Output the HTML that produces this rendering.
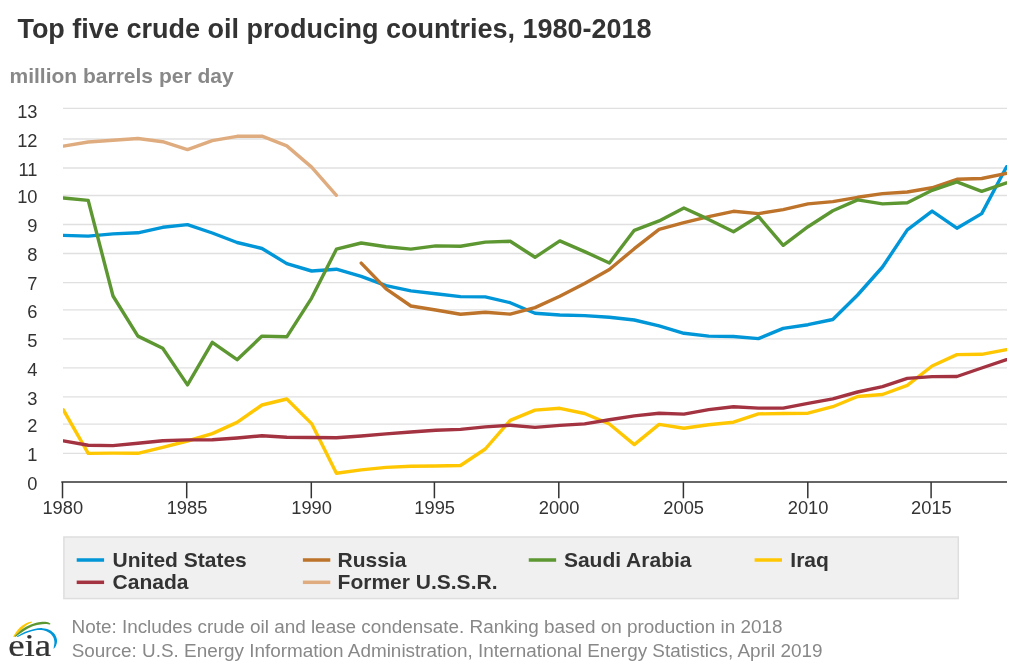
<!DOCTYPE html>
<html lang="en"><head><meta charset="utf-8"><title>Top five crude oil producing countries, 1980-2018</title>
<style>
html,body{margin:0;padding:0;background:#fff;}
body{width:1024px;height:666px;overflow:hidden;}
svg{display:block;font-family:"Liberation Sans",Arial,sans-serif;}
.t{font-weight:bold;font-size:27px;fill:#333;}
.st{font-weight:bold;font-size:21px;fill:#888;}
.ax{font-size:18.3px;fill:#333;}
.lg{font-weight:bold;font-size:21px;fill:#333;}
.nt{font-size:18.9px;fill:#888;}
.s{fill:none;stroke-width:3.4;stroke-linejoin:round;stroke-linecap:round;}
</style></head><body>
<svg width="1024" height="666" viewBox="0 0 1024 666">
<rect width="1024" height="666" fill="#fff"/>
<text class="t" x="17.4" y="37.9">Top five crude oil producing countries, 1980-2018</text>
<text class="st" x="9.5" y="83.2">million barrels per day</text>
<g stroke="#e0e0e0" stroke-width="1.35">
<line x1="63" x2="1007" y1="108.4" y2="108.4"/>
<line x1="63" x2="1007" y1="139.0" y2="139.0"/>
<line x1="63" x2="1007" y1="168.0" y2="168.0"/>
<line x1="63" x2="1007" y1="195.5" y2="195.5"/>
<line x1="63" x2="1007" y1="224.5" y2="224.5"/>
<line x1="63" x2="1007" y1="253.5" y2="253.5"/>
<line x1="63" x2="1007" y1="282.6" y2="282.6"/>
<line x1="63" x2="1007" y1="309.9" y2="309.9"/>
<line x1="63" x2="1007" y1="338.9" y2="338.9"/>
<line x1="63" x2="1007" y1="367.9" y2="367.9"/>
<line x1="63" x2="1007" y1="396.9" y2="396.9"/>
<line x1="63" x2="1007" y1="424.1" y2="424.1"/>
<line x1="63" x2="1007" y1="453.3" y2="453.3"/>
</g>
<g class="ax" text-anchor="end">
<text x="37.5" y="117.6">13</text>
<text x="37.5" y="146.7">12</text>
<text x="37.5" y="175.7">11</text>
<text x="37.5" y="203.2">10</text>
<text x="37.5" y="232.2">9</text>
<text x="37.5" y="261.2">8</text>
<text x="37.5" y="290.3">7</text>
<text x="37.5" y="317.6">6</text>
<text x="37.5" y="346.6">5</text>
<text x="37.5" y="375.6">4</text>
<text x="37.5" y="404.6">3</text>
<text x="37.5" y="431.8">2</text>
<text x="37.5" y="461.0">1</text>
<text x="37.5" y="489.8">0</text>
</g>
<clipPath id="pc"><rect x="63" y="100" width="944" height="390"/></clipPath>
<g class="s" clip-path="url(#pc)">
<path stroke="#0096d7" d="M63.4 235.4L88.2 236.1L113.0 233.9L137.9 232.8L162.7 227.3L187.5 224.6L212.3 233.0L237.1 242.5L262.0 248.5L286.8 263.6L311.6 271.0L336.4 269.2L361.2 276.3L386.1 285.6L410.9 290.9L435.7 293.8L460.5 296.6L485.3 296.9L510.2 302.7L535.0 313.3L559.8 315.0L584.6 315.6L609.4 317.2L634.3 320.0L659.1 325.9L683.9 333.3L708.7 336.1L733.5 336.5L758.4 338.6L783.2 328.4L808.0 324.7L832.8 319.5L857.6 295.0L882.5 267.0L907.3 229.9L932.1 211.1L956.9 228.2L981.7 213.6L1006.6 166.7"/>
<path stroke="#bd732a" d="M361.2 263.1L386.1 288.9L410.9 306.0L435.7 310.0L460.5 314.2L485.3 312.2L510.2 314.1L535.0 307.6L559.8 296.2L584.6 283.6L609.4 269.5L634.3 248.7L659.1 229.4L683.9 222.6L708.7 216.7L733.5 211.3L758.4 213.6L783.2 209.6L808.0 203.9L832.8 201.6L857.6 197.3L882.5 193.6L907.3 192.0L932.1 187.8L956.9 179.3L981.7 178.5L1006.6 173.3"/>
<path stroke="#5d9732" d="M63.4 198.0L88.2 200.4L113.0 296.0L137.9 336.1L162.7 348.3L187.5 384.9L212.3 342.3L237.1 359.7L262.0 336.1L286.8 336.8L311.6 298.1L336.4 249.2L361.2 243.0L386.1 246.8L410.9 249.1L435.7 245.9L460.5 246.2L485.3 242.1L510.2 241.3L535.0 257.3L559.8 240.9L584.6 251.6L609.4 263.0L634.3 230.3L659.1 220.9L683.9 208.0L708.7 219.4L733.5 231.8L758.4 216.3L783.2 245.3L808.0 226.7L832.8 210.7L857.6 199.9L882.5 203.9L907.3 202.7L932.1 190.3L956.9 181.9L981.7 191.3L1006.6 182.9"/>
<path stroke="#ffc702" d="M63.4 409.9L88.2 453.4L113.0 453.1L137.9 453.3L162.7 447.4L187.5 441.0L212.3 433.6L237.1 422.4L262.0 405.0L286.8 399.0L311.6 423.6L336.4 473.3L361.2 469.9L386.1 467.4L410.9 466.2L435.7 466.0L460.5 465.5L485.3 449.0L510.2 420.4L535.0 410.1L559.8 408.3L584.6 413.5L609.4 424.0L634.3 444.6L659.1 424.4L683.9 428.2L708.7 424.8L733.5 422.2L758.4 413.9L783.2 413.5L808.0 413.2L832.8 406.7L857.6 396.5L882.5 394.5L907.3 385.4L932.1 366.0L956.9 354.6L981.7 354.3L1006.6 349.7"/>
<path stroke="#a33340" d="M63.4 440.9L88.2 445.2L113.0 445.6L137.9 443.2L162.7 440.8L187.5 439.9L212.3 439.8L237.1 438.0L262.0 435.7L286.8 437.3L311.6 437.5L336.4 437.7L361.2 436.0L386.1 433.9L410.9 432.0L435.7 430.3L460.5 429.4L485.3 426.9L510.2 425.2L535.0 427.4L559.8 425.4L584.6 423.9L609.4 419.8L634.3 415.9L659.1 413.3L683.9 414.1L708.7 409.6L733.5 406.7L758.4 408.1L783.2 408.1L808.0 403.4L832.8 398.8L857.6 392.0L882.5 386.7L907.3 378.4L932.1 376.6L956.9 376.5L981.7 368.0L1006.6 359.7"/>
<path stroke="#dfac7f" d="M63.4 146.1L88.2 142.0L113.0 140.2L137.9 138.5L162.7 141.7L187.5 149.6L212.3 140.7L237.1 136.3L262.0 136.2L286.8 145.9L311.6 167.1L336.4 195.3"/>
</g>
<g stroke="#333" stroke-width="1.5">
<line x1="61.3" x2="1007" y1="482.1" y2="482.1"/>
<line x1="62.5" x2="62.5" y1="482.1" y2="498.3"/>
<line x1="186.7" x2="186.7" y1="482.1" y2="498.3"/>
<line x1="311.3" x2="311.3" y1="482.1" y2="498.3"/>
<line x1="434.4" x2="434.4" y1="482.1" y2="498.3"/>
<line x1="558.8" x2="558.8" y1="482.1" y2="498.3"/>
<line x1="683.4" x2="683.4" y1="482.1" y2="498.3"/>
<line x1="807.8" x2="807.8" y1="482.1" y2="498.3"/>
<line x1="931.1" x2="931.1" y1="482.1" y2="498.3"/>
</g>
<g class="ax" text-anchor="middle">
<text x="62.8" y="513.8">1980</text>
<text x="187.0" y="513.8">1985</text>
<text x="311.6" y="513.8">1990</text>
<text x="434.7" y="513.8">1995</text>
<text x="559.1" y="513.8">2000</text>
<text x="683.7" y="513.8">2005</text>
<text x="808.1" y="513.8">2010</text>
<text x="931.4" y="513.8">2015</text>
</g>
<rect x="63.9" y="537" width="894.4" height="61.6" fill="#f0f0f0" stroke="#dedede" stroke-width="1.5"/>
<line x1="76.7" x2="104.1" y1="560.0" y2="560.0" stroke="#0096d7" stroke-width="3.5"/>
<text class="lg" x="112.6" y="566.9">United States</text>
<line x1="302.9" x2="330.29999999999995" y1="560.0" y2="560.0" stroke="#bd732a" stroke-width="3.5"/>
<text class="lg" x="337.6" y="566.9">Russia</text>
<line x1="528.75" x2="556.15" y1="560.0" y2="560.0" stroke="#5d9732" stroke-width="3.5"/>
<text class="lg" x="563.9" y="566.9">Saudi Arabia</text>
<line x1="754.6" x2="782.0" y1="560.0" y2="560.0" stroke="#ffc702" stroke-width="3.5"/>
<text class="lg" x="790.3" y="566.9">Iraq</text>
<line x1="76.7" x2="104.1" y1="582.3" y2="582.3" stroke="#a33340" stroke-width="3.5"/>
<text class="lg" x="112.6" y="589.2">Canada</text>
<line x1="302.9" x2="330.29999999999995" y1="582.3" y2="582.3" stroke="#dfac7f" stroke-width="3.5"/>
<text class="lg" x="337.6" y="589.2">Former U.S.S.R.</text>
<g>
<path d="M13.06 636.63C14.11 635.20 17.19 630.29 19.37 628.07C21.55 625.85 24.02 624.39 26.13 623.30C28.23 622.20 31.01 621.80 31.98 621.50L31.71 622.58C30.86 623.03 28.38 623.99 26.58 625.28C24.77 626.57 22.90 628.43 20.90 630.32C18.90 632.22 15.65 635.58 14.59 636.63Z" fill="#ffc702"/>
<path d="M14.41 636.45C15.77 635.20 19.67 631.02 22.52 628.97C25.38 626.93 28.53 625.35 31.53 624.20C34.53 623.04 37.99 622.40 40.54 622.04C43.09 621.68 45.20 621.80 46.85 622.04C48.50 622.28 49.85 623.24 50.45 623.48L50.09 624.47C49.25 624.38 46.94 623.90 45.05 623.93C43.15 623.96 40.99 624.18 38.74 624.65C36.49 625.11 34.08 625.62 31.53 626.72C28.98 627.82 26.05 629.56 23.42 631.23C20.80 632.89 17.04 635.80 15.77 636.72Z" fill="#5d9732"/>
<path d="M16.67 636.63C18.09 635.83 22.30 633.13 25.23 631.86C28.15 630.58 31.38 629.59 34.23 628.97C37.09 628.36 39.79 628.00 42.34 628.16C44.89 628.33 47.48 628.94 49.55 629.96C51.62 630.98 53.53 632.58 54.77 634.29C56.02 636.00 56.83 638.34 57.03 640.23C57.22 642.13 56.52 644.20 55.95 645.64C55.38 647.08 53.99 648.34 53.60 648.88L53.78 646.99C53.89 646.17 54.55 643.73 54.41 642.04C54.28 640.34 53.86 638.36 52.97 636.81C52.09 635.26 50.72 633.84 49.10 632.76C47.48 631.68 45.42 630.76 43.24 630.32C41.07 629.89 38.74 629.75 36.04 630.14C33.33 630.53 30.11 631.54 27.03 632.67C23.95 633.79 19.14 636.20 17.57 636.90Z" fill="#0096d7"/>
<text transform="translate(8.2 656.1) scale(1.15 1)" font-family="'Liberation Serif','Times New Roman',serif" font-size="32" fill="#333" stroke="#333" stroke-width="0.25">eia</text>
</g>
<text class="nt" x="71.5" y="632.8">Note: Includes crude oil and lease condensate. Ranking based on production in 2018</text>
<text class="nt" x="71.7" y="656.8">Source: U.S. Energy Information Administration, International Energy Statistics, April 2019</text>
</svg></body></html>
